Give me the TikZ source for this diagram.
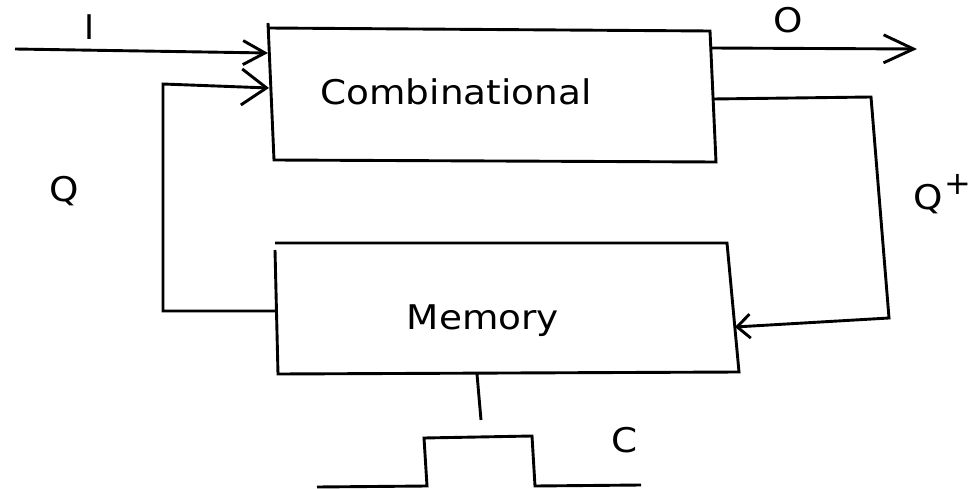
\documentclass[tikz,border=0pt]{standalone}
\usepackage{fontspec}
\setmainfont{DejaVu Sans}
\usetikzlibrary{arrows.meta}
\tikzset{
  wire/.style={line width=2.9pt, line join=miter},
  lbl/.style={anchor=base, inner sep=0pt, font=\fontsize{34}{40}\selectfont},
}
\newcommand{\wide}[1]{\scalebox{1.1}[1]{#1}}
\begin{document}
\begin{tikzpicture}[x=1pt, y=-1pt]
  \fill[white] (0,0) rectangle (974,489);
  \useasboundingbox (0,0) rectangle (974,489);

  % combinational block corners
  \coordinate (ctick) at (268,23);
  \coordinate (ctl) at (268,28);
  \coordinate (ctr) at (710,31);
  \coordinate (cbr) at (716,162);
  \coordinate (cbl) at (274,160);
  \draw[wire] (ctick) -- (cbl) -- (cbr) -- (ctr) -- (ctl);

  % memory block corners
  \coordinate (mtl) at (275,243);
  \coordinate (mtr) at (727,243);
  \coordinate (mbr) at (739,372);
  \coordinate (mbl) at (278,374);
  \coordinate (mlt) at (275,250);
  \draw[wire] (mtl) -- (mtr) -- (mbr) -- (mbl) -- (mlt);

  \node[lbl] (comb) at (456,105) {\wide{Combinational}};
  \node[lbl] (mem) at (483,329) {\wide{Memory}};

  % input I
  \coordinate (iin) at (15,49);
  \coordinate (iend) at (268,53);
  \draw[wire, -{Straight Barb[length=22pt, width=24pt, line width=2.9pt]}] (iin) -- (iend);
  \node[lbl] (ilbl) at (90,40) {I};

  % output O
  \coordinate (oin) at (711,48);
  \coordinate (oend) at (917,49);
  \draw[wire, -{Straight Barb[length=30pt, width=28pt, line width=2.9pt]}] (oin) -- (oend);
  \node[lbl] (olbl) at (788,33) {\wide{O}};

  % state feedback Q: memory -> combinational
  \coordinate (qout) at (276,311);
  \coordinate (qc1) at (163,311);
  \coordinate (qc2) at (163,84);
  \coordinate (qend) at (269,88);
  \draw[wire, -{Straight Barb[length=25pt, width=36pt, line width=2.9pt]}] (qout) -- (qc1) -- (qc2) -- (qend);
  \node[lbl] (qlbl) at (64,202) {\wide{Q}};

  % next state Q+: combinational -> memory
  \coordinate (pout) at (713,99);
  \coordinate (pc1) at (871,97);
  \coordinate (pc2) at (889,318);
  \coordinate (pend) at (735,327);
  \draw[wire, -{Straight Barb[length=13pt, width=24pt, line width=2.9pt]}] (pout) -- (pc1) -- (pc2) -- (pend);
  \node[lbl, anchor=base west] (plbl) at (913,210) {\wide{Q}\hspace{2pt}\raisebox{15pt}{\fontsize{32}{32}\selectfont +}};

  % clock
  \coordinate (ks) at (477,374);
  \coordinate (ke) at (481,420);
  \draw[wire] (ks) -- (ke);
  \coordinate (w1) at (317,487);
  \coordinate (w2) at (427,486);
  \coordinate (w3) at (424,438);
  \coordinate (w4) at (532,436);
  \coordinate (w5) at (535,486);
  \coordinate (w6) at (641,485);
  \draw[wire] (w1) -- (w2) -- (w3) -- (w4) -- (w5) -- (w6);
  \node[lbl] (clbl) at (625,452) {\wide{C}};
\end{tikzpicture}
\end{document}
